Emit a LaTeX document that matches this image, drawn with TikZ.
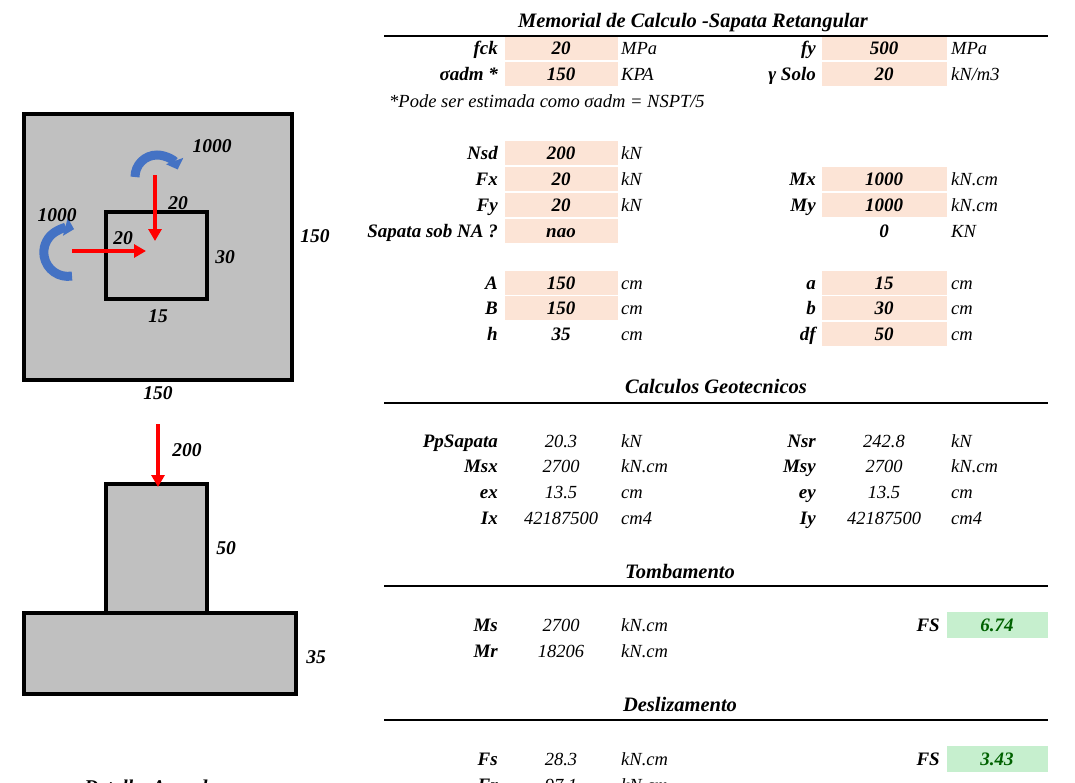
\documentclass[tikz,border=0pt]{standalone}
\usepackage{fontspec}
\setmainfont{Liberation Serif}
\usetikzlibrary{arrows.meta}
\definecolor{peach}{HTML}{FCE4D6}
\definecolor{fsg}{HTML}{C6EFCE}
\definecolor{fst}{HTML}{006100}
\definecolor{gr}{HTML}{C0C0C0}
\definecolor{bl}{HTML}{4472C4}
\begin{document}
\begin{tikzpicture}[x=1pt,y=-1pt,font=\fontsize{18.5}{20}\selectfont\itshape,
 lab/.style={anchor=base east,inner sep=0pt,font=\fontsize{19}{20}\selectfont\bfseries\itshape},
 val/.style={anchor=base,inner sep=0pt},
 bval/.style={anchor=base,inner sep=0pt,font=\fontsize{19}{20}\selectfont\bfseries\itshape},
 unit/.style={anchor=base west,inner sep=0pt},
 head/.style={anchor=base,inner sep=0pt,font=\fontsize{20.5}{22}\selectfont\bfseries\itshape},
 dim/.style={font=\fontsize{19.5}{21}\selectfont\bfseries\itshape},
 redarr/.style={red,line width=3.5,-{Triangle[length=12,width=13]}},
 bluearr/.style={bl,line width=9,-{Triangle[length=9,width=18]}}]
\useasboundingbox (0,0) rectangle (1075,782);
% peach cells
\foreach \x/\y in {505/48,505/74,505/153,505/179,505/205,505/231,505/283,505/308,
  822/48,822/74,822/179,822/205,822/283,822/308,822/334}
  {\fill[peach] (\x,\y-12) rectangle ++(113,24);}
\foreach \x/\y in {822/48,822/74,822/179,822/205,822/283,822/308,822/334}
  {\fill[peach] (\x+113,\y-12) rectangle ++(12,24);}
\fill[fsg] (947,612) rectangle (1048,638);
\fill[fsg] (947,746) rectangle (1048,772);
% headers and rules
\node[head] (h1) at (693,27) {Memorial de Calculo -Sapata Retangular};
\draw[line width=2.5] (384,36) -- (1048,36);
\node[head] (h2) at (716,393) {Calculos Geotecnicos};
\draw[line width=2.5] (384,403) -- (1048,403);
\node[head] (h3) at (680,578) {Tombamento};
\draw[line width=2.5] (384,586) -- (1048,586);
\node[head] (h4) at (680,711) {Deslizamento};
\draw[line width=2.5] (384,720) -- (1048,720);
% rows left
\foreach \l/\v/\u/\y/\b in {fck/20/MPa/48/1,σadm */150/KPA/74/1,Nsd/200/kN/153/1,Fx/20/kN/179/1,Fy/20/kN/205/1,Sapata sob NA ?/nao//231/1,
 A/150/cm/283/1,B/150/cm/308/1,h/35/cm/334/1,PpSapata/20.3/kN/441/0,Msx/2700/kN.cm/466/0,ex/13.5/cm/492/0,Ix/42187500/cm4/518/0,
 Ms/2700/kN.cm/625/0,Mr/18206/kN.cm/651/0,Fs/28.3/kN.cm/759/0,Fr/97.1/kN.cm/785/0}{
 \node[lab] at (498,\y+6) {\l};
 \ifnum\b=1 \node[bval] at (561,\y+6) {\v}; \else \node[val] at (561,\y+6) {\v}; \fi
 \node[unit] at (621,\y+6) {\u};}
% rows right
\foreach \l/\v/\u/\y/\b in {fy/500/MPa/48/1,γ Solo/20/{kN/m3}/74/1,Mx/1000/kN.cm/179/1,My/1000/kN.cm/205/1,/0/KN/231/1,
 a/15/cm/283/1,b/30/cm/308/1,df/50/cm/334/1,Nsr/242.8/kN/441/0,Msy/2700/kN.cm/466/0,ey/13.5/cm/492/0,Iy/42187500/cm4/518/0}{
 \node[lab] at (816,\y+6) {\l};
 \ifnum\b=1 \node[bval] at (884,\y+6) {\v}; \else \node[val] at (884,\y+6) {\v}; \fi
 \node[unit] at (951,\y+6) {\u};}
\node[unit] (note) at (389,107) {*Pode ser estimada como σadm = NSPT/5};
\node[lab] (fs1) at (940,631) {FS};
\node[bval,fst] (v1) at (997,631) {6.74};
\node[lab] (fs2) at (940,765) {FS};
\node[bval,fst] (v2) at (997,765) {3.43};
% plan view
\draw[fill=gr,line width=3.5] (24,114) rectangle (292,380);
\draw[line width=3.5] (106,212) rectangle (207,299);
\draw[bluearr] (135,177) arc[start angle=180,end angle=340,radius=22];
\draw[bluearr] (72,276) arc[start angle=80,end angle=285,radius=24];
\draw[redarr] (155,175) -- (155,241);
\draw[redarr] (72,251) -- (146,251);
\node[dim] at (212,146) {1000};
\node[dim] at (178,203) {20};
\node[dim] at (57,215) {1000};
\node[dim] at (123,238) {20};
\node[dim] at (225,257) {30};
\node[dim] at (315,236) {150};
\node[dim] at (158,316) {15};
\node[dim] at (158,393) {150};
% elevation
\draw[fill=gr,line width=3.5] (106,484) rectangle (207,613);
\draw[fill=gr,line width=3.5] (24,613) rectangle (296,694);
\draw[redarr] (158,424) -- (158,487);
\node[dim] at (187,450) {200};
\node[dim] at (226,548) {50};
\node[dim] at (316,657) {35};
\node[dim] at (160,787) {Detalhe Armadura};
\end{tikzpicture}
\end{document}
